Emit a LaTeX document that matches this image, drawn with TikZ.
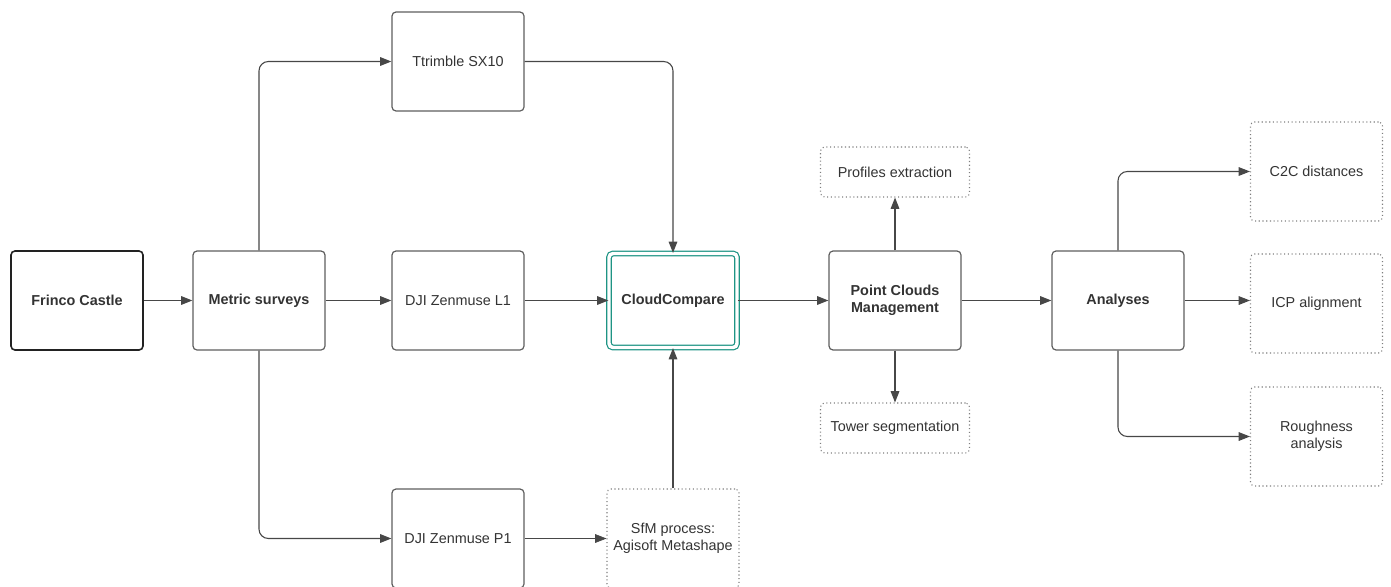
\documentclass[tikz,border=0pt]{standalone}
\usepackage{fontspec}
\setmainfont{Liberation Sans}
\usetikzlibrary{arrows.meta,calc}
\definecolor{txt}{HTML}{333333}
\definecolor{bord}{HTML}{5E5E5E}
\definecolor{line}{HTML}{474747}
\definecolor{dark}{HTML}{222222}
\definecolor{tealc}{HTML}{1E9484}
\begin{document}
\begin{tikzpicture}[x=0.75pt,y=-0.75pt,
  every node/.style={font=\fontsize{10.8}{13}\selectfont, text=txt, align=center},
  bf/.style={font=\fontsize{10.8}{13}\selectfont\bfseries},
  box/.style={draw=bord, line width=0.9pt, rounded corners=3pt, minimum width=99pt, minimum height=74.25pt, inner sep=2pt},
  dbox/.style={draw=bord!80, line width=0.8pt, dotted, rounded corners=3pt, minimum width=99pt, minimum height=74.25pt, inner sep=2pt},
  sbox/.style={dbox, minimum width=111.75pt, minimum height=37.5pt},
  arr/.style={draw=line, line width=0.8pt, -{Triangle[length=8.5pt,width=6.5pt]}, rounded corners=7pt}
]
\useasboundingbox (0,0) rectangle (1391,586);
\node[box, draw=dark, line width=1.2pt, bf] (fc) at (77,300.5) {Frinco Castle};
\node[box, bf] (ms) at (259,300.5) {Metric surveys};
\node[box] (trim) at (458,61.5) {Ttrimble SX10};
\node[box] (l1) at (458,300.5) {DJI Zenmuse L1};
\node[box] (p1) at (458,538.5) {DJI Zenmuse P1};
\node[box, draw=tealc, line width=0.9pt, double=white, double distance=2.6pt, minimum width=96pt, minimum height=70.5pt, bf] (cc) at (673,300.5) {CloudCompare};
\node[dbox] (sfm) at (673,538.5) {SfM process:\\Agisoft Metashape};
\node[box, bf] (pcm) at (895,300.5) {Point Clouds\\Management};
\node[sbox] (pe) at (895,172) {Profiles extraction};
\node[sbox] (ts) at (895,428) {Tower segmentation};
\node[box, bf] (an) at (1118,300.5) {Analyses};
\node[dbox] (c2c) at (1316.5,171.5) {C2C distances};
\node[dbox] (icp) at (1316.5,303.5) {ICP alignment};
\node[dbox] (ra) at (1316.5,436.5) {Roughness\\analysis};

\draw[arr] (fc) -- (ms);
\draw[arr] (ms) -- (l1);
\draw[arr] (l1) -- (cc);
\draw[arr] (ms.north) |- (trim.west);
\draw[arr] (ms.south) |- (p1.west);
\draw[arr] (trim.east) -| (cc.north);
\draw[arr] (sfm.north) -- (cc.south);
\draw[arr, line width=0.5pt] (p1.east) -- (sfm.west);
\draw[arr] (cc) -- (pcm);
\draw[arr] (pcm.north) -- (pe.south);
\draw[arr] (pcm.south) -- (ts.north);
\draw[arr] (pcm) -- (an);
\draw[arr] (an.north) |- (c2c.west);
\draw[arr] (an.south) |- (ra.west);
\draw[arr] (an.east) -- (an.east -| icp.west);
\end{tikzpicture}
\end{document}
